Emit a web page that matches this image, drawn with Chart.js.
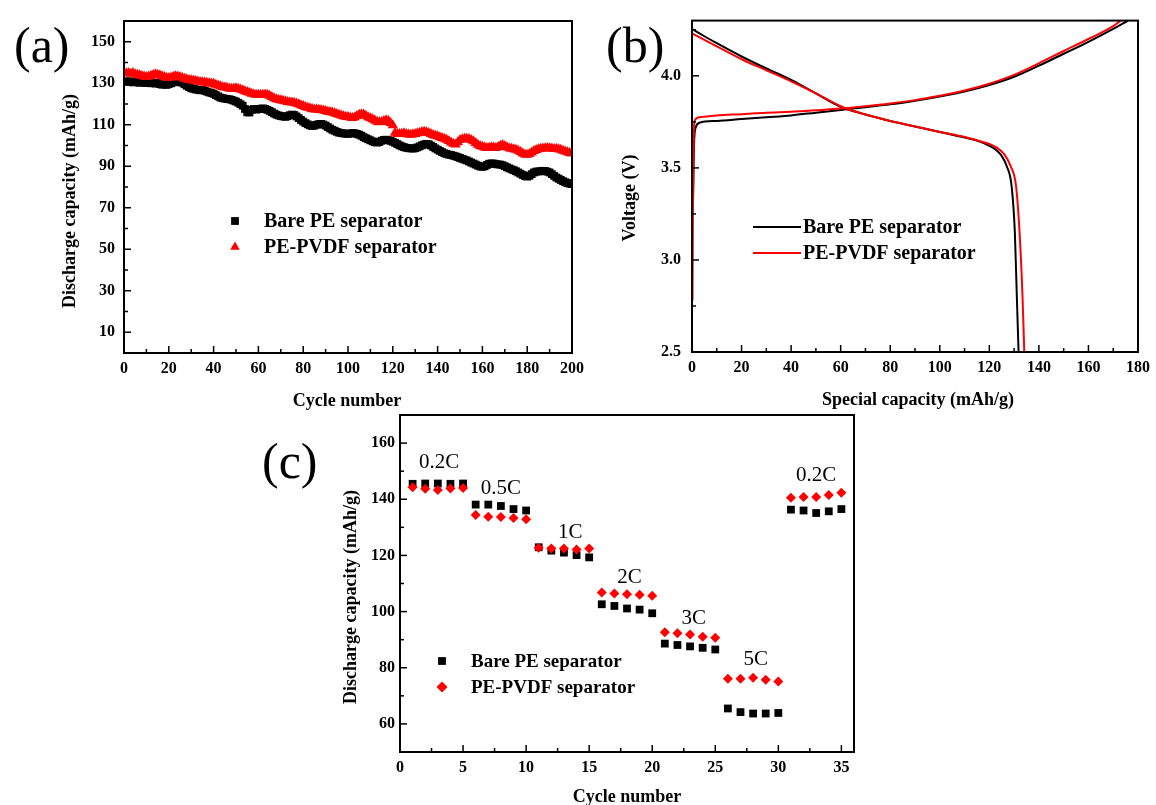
<!DOCTYPE html>
<html>
<head>
<meta charset="utf-8">
<script src="https://cdn.jsdelivr.net/npm/chart.js@4.4.1/dist/chart.umd.min.js"></script>
<style>
  body { margin: 0; background: #fff; }
  #wrap { position: relative; width: 1156px; height: 805px; overflow: hidden; background: #fff; }
  canvas { position: absolute; }
  .panel { position: absolute; font-family: 'Liberation Serif', 'Times New Roman', serif; font-size: 50px; line-height: 1; color: #000; }
</style>
</head>
<body>
<div id="wrap">
  <canvas id="chartA" width="590" height="420" style="left:0;top:0"></canvas>
  <canvas id="chartB" width="576" height="420" style="left:580px;top:0"></canvas>
  <canvas id="chartC" width="650" height="405" style="left:250px;top:400px"></canvas>
  <div class="panel" style="left:14px;top:20px">(a)</div>
  <div class="panel" style="left:606px;top:20px">(b)</div>
  <div class="panel" style="left:262px;top:436px">(c)</div>
</div>
<script>
// ---- (a) cycling, discharge capacity per cycle (mAh/g), cycles 1..200
const bareCycleCap = [
  131.0,130.6,130.9,130.4,130.8,130.5,130.2,130.7,130.3,130.1,
  130.4,130.0,130.3,129.8,130.2,129.6,129.3,129.5,129.2,129.6,
  130.0,130.4,130.7,130.9,130.6,130.2,129.5,128.8,128.2,127.6,
  127.3,127.0,126.9,126.6,126.8,126.4,126.0,125.6,125.3,124.9,
  124.3,123.7,123.1,122.8,122.6,122.4,122.3,122.0,121.6,121.2,
  120.6,119.9,119.2,117.6,116.0,115.9,117.2,117.6,117.3,117.5,
  117.7,117.9,117.6,117.2,116.7,116.1,115.4,114.9,114.5,114.2,
  114.0,113.8,114.1,114.6,114.9,114.7,114.0,113.2,112.3,111.5,
  110.8,110.2,109.7,109.4,109.6,110.0,110.3,110.4,110.1,109.6,
  108.9,108.2,107.6,107.1,106.6,106.2,106.0,105.8,105.7,105.6,
  105.8,106.0,105.9,105.6,105.2,104.7,104.0,103.5,103.0,102.5,
  102.0,101.6,101.4,101.7,102.3,102.7,102.8,102.6,102.2,101.8,
  101.3,100.7,100.1,99.6,99.2,98.9,98.7,98.6,98.5,98.7,
  99.1,99.6,100.1,100.5,100.8,100.6,100.0,99.3,98.6,98.0,
  97.4,96.8,96.3,95.9,95.6,95.4,95.1,94.8,94.4,94.0,
  93.6,93.2,92.8,92.3,91.8,91.3,90.8,90.3,89.9,89.7,
  90.0,90.6,91.2,91.4,91.3,91.0,90.9,90.8,90.5,90.0,
  89.5,89.0,88.5,88.1,87.6,87.0,86.4,85.8,85.3,85.0,
  85.4,86.2,87.0,87.4,87.5,87.6,87.8,87.7,87.4,87.0,
  86.2,85.4,84.6,84.0,83.4,82.8,82.3,81.9,81.6,81.4
];
const pvdfCycleCap = [
  134.8,135.0,134.6,134.9,134.3,134.1,133.8,133.5,133.2,133.0,
  133.3,133.6,134.0,134.3,134.1,133.8,133.4,133.0,132.6,132.5,
  132.8,133.1,133.4,133.2,133.0,132.6,132.2,131.9,131.6,131.5,
  131.3,131.1,130.8,130.6,130.5,130.4,130.2,130.0,129.9,129.7,
  129.3,128.9,128.5,128.2,128.0,127.8,127.5,127.4,127.5,127.6,
  127.4,127.0,126.6,126.2,125.8,125.4,125.0,124.7,124.5,124.4,
  124.3,124.5,124.6,124.4,124.0,123.4,122.8,122.3,122.0,121.8,
  121.6,121.3,121.0,120.8,120.7,120.6,120.3,119.9,119.4,119.0,
  118.6,118.2,117.9,117.6,117.4,117.3,117.2,117.1,116.9,116.6,
  116.3,116.1,115.9,115.6,115.2,114.8,114.4,114.1,113.9,113.7,
  113.5,113.3,113.6,114.2,114.8,115.1,114.9,114.3,113.6,113.1,
  112.6,112.0,111.5,111.2,111.3,111.8,112.2,111.9,110.9,109.8,
  106.2,105.6,105.5,105.7,105.9,105.6,105.3,105.2,105.4,105.6,
  105.9,106.2,106.5,106.6,106.4,106.0,105.6,105.1,104.7,104.4,
  104.0,103.6,103.2,102.8,102.2,101.4,100.8,100.5,101.6,102.6,
  103.0,103.2,103.3,103.1,102.7,102.0,101.2,100.4,99.8,99.4,
  99.0,98.8,98.9,99.2,99.0,98.8,99.3,99.9,100.2,99.8,
  99.2,98.7,98.4,98.2,97.9,97.5,96.9,96.2,95.7,95.5,
  95.9,96.6,97.3,97.8,98.2,98.4,98.6,98.7,98.8,98.7,
  98.5,98.3,98.4,98.2,97.9,97.5,97.1,96.7,96.4,96.1
];
const aXMajor = [0, 20, 40, 60, 80, 100, 120, 140, 160, 180, 200];
const aXMinor = [10, 30, 50, 70, 90, 110, 130, 150, 170, 190];
const aYMajor = [10, 30, 50, 70, 90, 110, 130, 150];
const aYMinor = [20, 40, 60, 80, 100, 120, 140];

// ---- (b) charge / discharge profiles: capacity (mAh/g) and voltage (V)
const bareChargeCap = [0.4, 0.8, 1.5, 3, 10, 20, 30, 40, 50, 60, 70, 80, 90, 100, 110, 120, 130, 140, 150, 160, 170, 176];
const bareChargeV   = [3.30, 3.62, 3.72, 3.745, 3.755, 3.765, 3.775, 3.785, 3.80, 3.815, 3.83, 3.845, 3.865, 3.888, 3.915, 3.95, 3.995, 4.055, 4.12, 4.185, 4.255, 4.30];
const pvdfChargeCap = [0.2, 0.4, 0.7, 1.2, 3, 10, 20, 30, 40, 50, 60, 70, 80, 90, 100, 110, 120, 130, 140, 150, 160, 170, 173];
const pvdfChargeV   = [2.78, 3.30, 3.68, 3.76, 3.775, 3.785, 3.792, 3.80, 3.805, 3.813, 3.822, 3.835, 3.85, 3.868, 3.892, 3.92, 3.957, 4.005, 4.068, 4.135, 4.20, 4.27, 4.30];
const bareDischCap  = [0, 5, 10, 20, 30, 40, 50, 60, 70, 80, 90, 100, 110, 115, 120, 123, 125, 127, 129, 130.3, 131.1, 131.8];
const bareDischV    = [4.255, 4.215, 4.177, 4.105, 4.04, 3.978, 3.905, 3.832, 3.79, 3.755, 3.725, 3.695, 3.665, 3.648, 3.62, 3.595, 3.565, 3.51, 3.40, 3.15, 2.80, 2.50];
const pvdfDischCap  = [0, 5, 10, 20, 30, 40, 50, 60, 70, 80, 90, 100, 110, 115, 120, 123, 126, 128.6, 130.8, 132.2, 133.4, 134.1];
const pvdfDischV    = [4.23, 4.195, 4.16, 4.09, 4.03, 3.97, 3.905, 3.835, 3.79, 3.755, 3.725, 3.695, 3.668, 3.65, 3.63, 3.61, 3.575, 3.51, 3.40, 3.15, 2.80, 2.50];
const bXMajor = [0, 20, 40, 60, 80, 100, 120, 140, 160, 180];
const bXMinor = [10, 30, 50, 70, 90, 110, 130, 150, 170];
const bYMajor = [2.5, 3.0, 3.5, 4.0];
const bYMinor = [2.75, 3.25, 3.75, 4.25];

// ---- (c) rate capability, cycles 1..35
const bareRateCap = [
  145.5, 145.6, 145.6, 145.5, 145.6,
  138.1, 138.1, 137.6, 136.5, 136.0,
  122.9, 121.7, 121.0, 120.1, 119.3,
  102.6, 102.0, 101.1, 100.7, 99.4,
  88.6, 88.1, 87.6, 87.1, 86.5,
  65.5, 64.2, 63.7, 63.7, 63.9,
  136.3, 136.0, 135.1, 135.7, 136.5
];
const pvdfRateCap = [
  144.3, 143.7, 143.3, 143.8, 144.0,
  134.4, 133.8, 133.7, 133.3, 132.9,
  122.7, 122.5, 122.5, 122.1, 122.5,
  106.8, 106.4, 106.2, 106.0, 105.6,
  92.6, 92.3, 91.8, 91.0, 90.7,
  76.1, 76.1, 76.4, 75.7, 75.1,
  140.5, 140.8, 140.8, 141.5, 142.3
];
const rateNames = ['0.2C', '0.5C', '1C', '2C', '3C', '5C', '0.2C'];
const rateNameCycle = [3.1, 8.0, 13.5, 18.2, 23.3, 28.2, 33.0];
const rateNameCap = [153.2, 144.0, 128.2, 112.1, 97.5, 82.9, 148.5];
const cXMajor = [0, 5, 10, 15, 20, 25, 30, 35];
const cXMinor = [2.5, 7.5, 12.5, 17.5, 22.5, 27.5, 32.5];
const cYMajor = [60, 80, 100, 120, 140, 160];
const cYMinor = [70, 90, 110, 130, 150];

const SERIF = "'Liberation Serif', 'Times New Roman', serif";
Chart.defaults.font.family = SERIF;
Chart.defaults.font.weight = 'bold';
Chart.defaults.font.size = 16;
Chart.defaults.color = '#000';
Chart.defaults.animation = false;

function byCycle(values) {
  return values.map((v, i) => ({ x: i + 1, y: v }));
}
function pairs(xs, ys) {
  return xs.map((x, i) => ({ x: x, y: ys[i] }));
}

function makeAxis(min, max, majors, minors, fmt, pad, size) {
  const all = majors.concat(minors).sort((a, b) => a - b);
  return {
    type: 'linear', min: min, max: max,
    grid: { display: false, drawTicks: false },
    border: { display: false },
    afterBuildTicks: s => { s.ticks = all.map(v => ({ value: v })); },
    afterFit: s => { if (s.isHorizontal()) s.height = size; else s.width = size; },
    ticks: {
      autoSkip: false, maxRotation: 0, minRotation: 0, padding: pad,
      callback: v => majors.includes(v) ? fmt(v) : ''
    }
  };
}

function drawMarker(ctx, style, x, y, r) {
  ctx.beginPath();
  if (style === 'rect') {
    const h = r * Math.SQRT1_2;
    ctx.rect(x - h, y - h, 2 * h, 2 * h);
  } else if (style === 'triangle') {
    ctx.moveTo(x, y - r);
    ctx.lineTo(x + r * 0.866, y + r * 0.5);
    ctx.lineTo(x - r * 0.866, y + r * 0.5);
    ctx.closePath();
  } else if (style === 'rectRot') {
    ctx.moveTo(x, y - r); ctx.lineTo(x + r, y); ctx.lineTo(x, y + r); ctx.lineTo(x - r, y);
    ctx.closePath();
  }
  ctx.fill();
}

// frame, inward ticks, axis titles, legend and notes
const decor = {
  id: 'decor',
  afterDatasetsDraw(chart, args, opts) {
    const { ctx, chartArea: a } = chart;
    ctx.save();
    ctx.strokeStyle = '#000';
    ctx.lineWidth = 1.5;
    ['x', 'y'].forEach(id => {
      const s = chart.scales[id];
      s.ticks.forEach(t => {
        const len = t.label ? 7 : 4;
        const p = s.getPixelForValue(t.value);
        ctx.beginPath();
        if (id === 'x') { ctx.moveTo(p, a.bottom); ctx.lineTo(p, a.bottom - len); }
        else { ctx.moveTo(a.left, p); ctx.lineTo(a.left + len, p); }
        ctx.stroke();
      });
    });
    ctx.lineWidth = 2;
    ctx.strokeRect(a.left, a.top, a.right - a.left, a.bottom - a.top);

    // axis titles
    ctx.fillStyle = '#000';
    ctx.textAlign = 'center';
    ctx.textBaseline = 'middle';
    ctx.font = 'bold 18px ' + SERIF;
    ctx.fillText(opts.xTitle, opts.xTitleAt[0], opts.xTitleAt[1]);
    ctx.save();
    ctx.translate(opts.yTitleAt[0], opts.yTitleAt[1]);
    ctx.rotate(-Math.PI / 2);
    ctx.fillText(opts.yTitle, 0, 0);
    ctx.restore();

    // legend
    const lg = opts.legend;
    ctx.textAlign = 'left';
    ctx.font = 'bold ' + lg.size + 'px ' + SERIF;
    lg.items.forEach((di, k) => {
      const ds = chart.data.datasets[di];
      const y = lg.y + k * lg.dy;
      ctx.fillStyle = ds.borderColor;
      ctx.strokeStyle = ds.borderColor;
      if (lg.line) {
        ctx.lineWidth = 2;
        ctx.beginPath(); ctx.moveTo(lg.x, y); ctx.lineTo(lg.x + lg.line, y); ctx.stroke();
      } else {
        drawMarker(ctx, ds.pointStyle, lg.x, y, lg.r);
      }
      ctx.fillStyle = '#000';
      ctx.fillText(ds.label, lg.textX, y + 1);
    });

    // rate notes
    if (opts.notes) {
      ctx.font = 'normal 21px ' + SERIF;
      ctx.textAlign = 'center';
      ctx.fillStyle = '#000';
      const { x, y } = chart.scales;
      opts.notes.text.forEach((txt, i) => {
        ctx.fillText(txt, x.getPixelForValue(opts.notes.at[i]), y.getPixelForValue(opts.notes.val[i]));
      });
    }
    ctx.restore();
  }
};

const common = {
  responsive: false,
  animation: false,
  plugins: { legend: { display: false }, tooltip: { enabled: false } }
};

// (a)
new Chart(document.getElementById('chartA'), {
  type: 'scatter',
  data: {
    datasets: [
      { label: 'Bare PE separator', data: byCycle(bareCycleCap), pointStyle: 'rect', pointRadius: 5.5,
        backgroundColor: '#000', borderColor: '#000', borderWidth: 0, order: 1 },
      { label: 'PE-PVDF separator', data: byCycle(pvdfCycleCap), pointStyle: 'triangle', pointRadius: 6,
        backgroundColor: '#ff0000', borderColor: '#ff0000', borderWidth: 0, order: 0 }
    ]
  },
  options: Object.assign({}, common, {
    layout: { padding: { left: 0, top: 21, right: 18, bottom: 0 } },
    plugins: Object.assign({}, common.plugins, {
      decor: {
        xTitle: 'Cycle number', xTitleAt: [347, 401],
        yTitle: 'Discharge capacity (mAh/g)', yTitleAt: [70, 201],
        legend: { items: [0, 1], x: 235, y: 221, dy: 26, r: 5.5, textX: 264, size: 20 }
      }
    }),
    scales: {
      x: makeAxis(0, 200, aXMajor, aXMinor, v => String(v), 6, 67),
      y: makeAxis(0, 160, aYMajor, aYMinor, v => String(v), 9, 124)
    }
  }),
  plugins: [decor]
});

// (b)
const lineStyle = { showLine: true, pointRadius: 0, borderWidth: 2, cubicInterpolationMode: 'monotone', fill: false };
new Chart(document.getElementById('chartB'), {
  type: 'scatter',
  data: {
    datasets: [
      Object.assign({ label: 'Bare PE separator', data: pairs(bareChargeCap, bareChargeV), borderColor: '#000', order: 1 }, lineStyle),
      Object.assign({ label: 'Bare PE separator', data: pairs(bareDischCap, bareDischV), borderColor: '#000', order: 1 }, lineStyle),
      Object.assign({ label: 'PE-PVDF separator', data: pairs(pvdfChargeCap, pvdfChargeV), borderColor: '#ff0000', order: 0 }, lineStyle),
      Object.assign({ label: 'PE-PVDF separator', data: pairs(pvdfDischCap, pvdfDischV), borderColor: '#ff0000', order: 0 }, lineStyle)
    ]
  },
  options: Object.assign({}, common, {
    layout: { padding: { left: 0, top: 20, right: 12, bottom: 0 } },
    plugins: Object.assign({}, common.plugins, {
      decor: {
        xTitle: 'Special capacity (mAh/g)', xTitleAt: [338, 400],
        yTitle: 'Voltage (V)', yTitleAt: [50, 198],
        legend: { items: [0, 2], x: 173, y: 227, dy: 26, line: 48, textX: 223, size: 20 }
      }
    }),
    scales: {
      x: makeAxis(0, 180, bXMajor, bXMinor, v => String(v), 6, 68),
      y: makeAxis(2.5, 4.3, bYMajor, bYMinor, v => v.toFixed(1), 11, 112)
    }
  }),
  plugins: [decor]
});

// (c)
new Chart(document.getElementById('chartC'), {
  type: 'scatter',
  data: {
    datasets: [
      { label: 'Bare PE separator', data: byCycle(bareRateCap), pointStyle: 'rect', pointRadius: 5.5,
        backgroundColor: '#000', borderColor: '#000', borderWidth: 0, order: 1 },
      { label: 'PE-PVDF separator', data: byCycle(pvdfRateCap), pointStyle: 'rectRot', pointRadius: 5,
        backgroundColor: '#ff0000', borderColor: '#ff0000', borderWidth: 0, order: 0 }
    ]
  },
  options: Object.assign({}, common, {
    layout: { padding: { left: 0, top: 15, right: 46, bottom: 0 } },
    plugins: Object.assign({}, common.plugins, {
      decor: {
        xTitle: 'Cycle number', xTitleAt: [377, 397],
        yTitle: 'Discharge capacity (mAh/g)', yTitleAt: [101, 197],
        legend: { items: [0, 1], x: 192, y: 261, dy: 26, r: 5.5, textX: 221, size: 19 },
        notes: { text: rateNames, at: rateNameCycle, val: rateNameCap }
      }
    }),
    scales: {
      x: makeAxis(0, 36, cXMajor, cXMinor, v => String(v), 6, 53),
      y: makeAxis(50, 170, cYMajor, cYMinor, v => String(v), 5, 150)
    }
  }),
  plugins: [decor]
});
</script>
</body>
</html>
